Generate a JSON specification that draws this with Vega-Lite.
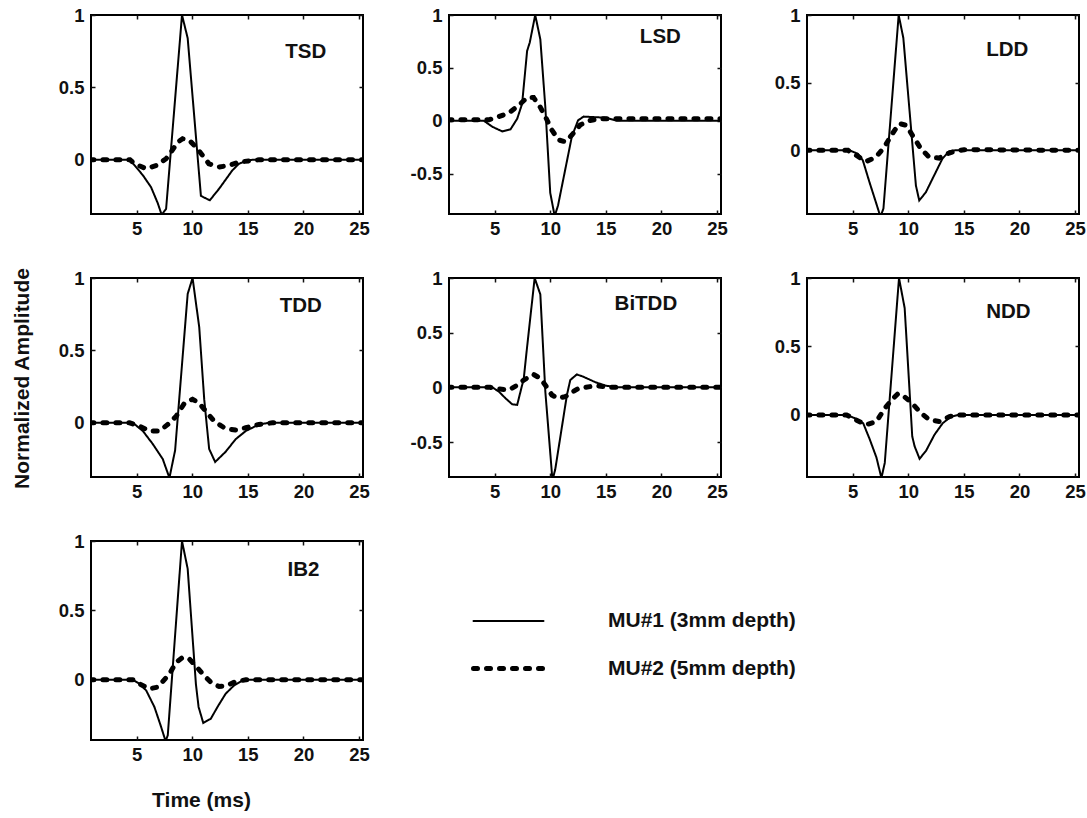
{
  "$schema": "https://vega.github.io/schema/vega-lite/v6.json",
  "background": "white",
  "padding": {"left": 9, "top": 5, "right": 5, "bottom": 5},
  "config": {
    "view": {"stroke": "black", "strokeWidth": 2},
    "axis": {"domain": false, "grid": false, "labelFont": "Liberation Sans", "labelFontWeight": "bold", "labelFontSize": 18.5, "labelColor": "#111", "tickColor": "#111", "tickSize": -4, "tickWidth": 1.5, "titleFont": "Liberation Sans", "titleFontWeight": "bold", "titleFontSize": 21, "titleColor": "#111"},
    "axisX": {"labelPadding": 9},
    "axisY": {"labelPadding": 11},
    "legend": {"orient": "none", "legendX": 380, "legendY": 570, "symbolType": "stroke", "symbolSize": 4900, "symbolStrokeColor": "black", "labelFont": "Liberation Sans", "labelFontWeight": "bold", "labelFontSize": 21, "labelColor": "#111", "labelOffset": 62, "labelLimit": 0, "labelBaseline": "middle", "rowPadding": -29},
    "text": {"font": "Liberation Sans", "fontWeight": "bold", "fontSize": 20.5, "color": "#111"}
  },
  "datasets": {
    "TSD": [
      {"t":0.8,"a":0,"s":"MU#1 (3mm depth)"},{"t":4.4,"a":0,"s":"MU#1 (3mm depth)"},{"t":5.57,"a":-0.108,"s":"MU#1 (3mm depth)"},{"t":6.3,"a":-0.19,"s":"MU#1 (3mm depth)"},{"t":6.9,"a":-0.3,"s":"MU#1 (3mm depth)"},{"t":7.25,"a":-0.38,"s":"MU#1 (3mm depth)"},{"t":7.65,"a":-0.34,"s":"MU#1 (3mm depth)"},{"t":9.08,"a":1.0,"s":"MU#1 (3mm depth)"},{"t":9.59,"a":0.84,"s":"MU#1 (3mm depth)"},{"t":10.78,"a":-0.25,"s":"MU#1 (3mm depth)"},{"t":11.58,"a":-0.28,"s":"MU#1 (3mm depth)"},{"t":12.42,"a":-0.2,"s":"MU#1 (3mm depth)"},{"t":13.6,"a":-0.074,"s":"MU#1 (3mm depth)"},{"t":14.2,"a":-0.028,"s":"MU#1 (3mm depth)"},{"t":14.95,"a":-0.005,"s":"MU#1 (3mm depth)"},{"t":15.5,"a":0,"s":"MU#1 (3mm depth)"},{"t":25.4,"a":0,"s":"MU#1 (3mm depth)"},
      {"t":0.8,"a":0,"s":"MU#2 (5mm depth)"},{"t":4.4,"a":0,"s":"MU#2 (5mm depth)"},{"t":4.8,"a":-0.028,"s":"MU#2 (5mm depth)"},{"t":5.86,"a":-0.062,"s":"MU#2 (5mm depth)"},{"t":6.76,"a":-0.04,"s":"MU#2 (5mm depth)"},{"t":7.65,"a":0.007,"s":"MU#2 (5mm depth)"},{"t":8.1,"a":0.053,"s":"MU#2 (5mm depth)"},{"t":8.7,"a":0.122,"s":"MU#2 (5mm depth)"},{"t":9.14,"a":0.145,"s":"MU#2 (5mm depth)"},{"t":9.74,"a":0.134,"s":"MU#2 (5mm depth)"},{"t":10.33,"a":0.088,"s":"MU#2 (5mm depth)"},{"t":10.93,"a":0.03,"s":"MU#2 (5mm depth)"},{"t":11.5,"a":-0.028,"s":"MU#2 (5mm depth)"},{"t":12.42,"a":-0.05,"s":"MU#2 (5mm depth)"},{"t":13.3,"a":-0.04,"s":"MU#2 (5mm depth)"},{"t":14.2,"a":-0.016,"s":"MU#2 (5mm depth)"},{"t":15.4,"a":-0.005,"s":"MU#2 (5mm depth)"},{"t":16,"a":0,"s":"MU#2 (5mm depth)"},{"t":25.4,"a":0,"s":"MU#2 (5mm depth)"}
    ],
    "LSD": [
      {"t":0.8,"a":0,"s":"MU#1 (3mm depth)"},{"t":4.05,"a":0,"s":"MU#1 (3mm depth)"},{"t":4.8,"a":-0.056,"s":"MU#1 (3mm depth)"},{"t":5.7,"a":-0.1,"s":"MU#1 (3mm depth)"},{"t":6.43,"a":-0.08,"s":"MU#1 (3mm depth)"},{"t":7.03,"a":0.02,"s":"MU#1 (3mm depth)"},{"t":7.47,"a":0.16,"s":"MU#1 (3mm depth)"},{"t":7.92,"a":0.66,"s":"MU#1 (3mm depth)"},{"t":8.16,"a":0.74,"s":"MU#1 (3mm depth)"},{"t":8.65,"a":1.0,"s":"MU#1 (3mm depth)"},{"t":9.11,"a":0.77,"s":"MU#1 (3mm depth)"},{"t":9.56,"a":0.13,"s":"MU#1 (3mm depth)"},{"t":10.0,"a":-0.68,"s":"MU#1 (3mm depth)"},{"t":10.4,"a":-0.9,"s":"MU#1 (3mm depth)"},{"t":10.7,"a":-0.8,"s":"MU#1 (3mm depth)"},{"t":11.94,"a":-0.15,"s":"MU#1 (3mm depth)"},{"t":12.5,"a":0.005,"s":"MU#1 (3mm depth)"},{"t":13.0,"a":0.04,"s":"MU#1 (3mm depth)"},{"t":15.0,"a":0.03,"s":"MU#1 (3mm depth)"},{"t":16.0,"a":0,"s":"MU#1 (3mm depth)"},{"t":25.4,"a":0,"s":"MU#1 (3mm depth)"},
      {"t":0.8,"a":0.01,"s":"MU#2 (5mm depth)"},{"t":4.5,"a":0.01,"s":"MU#2 (5mm depth)"},{"t":5.39,"a":0.04,"s":"MU#2 (5mm depth)"},{"t":6.28,"a":0.075,"s":"MU#2 (5mm depth)"},{"t":7.17,"a":0.147,"s":"MU#2 (5mm depth)"},{"t":7.92,"a":0.22,"s":"MU#2 (5mm depth)"},{"t":8.5,"a":0.22,"s":"MU#2 (5mm depth)"},{"t":9.1,"a":0.13,"s":"MU#2 (5mm depth)"},{"t":9.56,"a":0.04,"s":"MU#2 (5mm depth)"},{"t":10.15,"a":-0.088,"s":"MU#2 (5mm depth)"},{"t":10.75,"a":-0.18,"s":"MU#2 (5mm depth)"},{"t":11.34,"a":-0.197,"s":"MU#2 (5mm depth)"},{"t":11.94,"a":-0.134,"s":"MU#2 (5mm depth)"},{"t":12.68,"a":-0.04,"s":"MU#2 (5mm depth)"},{"t":13.43,"a":0,"s":"MU#2 (5mm depth)"},{"t":14.5,"a":0.02,"s":"MU#2 (5mm depth)"},{"t":25.4,"a":0.02,"s":"MU#2 (5mm depth)"}
    ],
    "LDD": [
      {"t":0.8,"a":0,"s":"MU#1 (3mm depth)"},{"t":4.73,"a":0,"s":"MU#1 (3mm depth)"},{"t":5.48,"a":-0.025,"s":"MU#1 (3mm depth)"},{"t":5.92,"a":-0.074,"s":"MU#1 (3mm depth)"},{"t":6.52,"a":-0.236,"s":"MU#1 (3mm depth)"},{"t":7.1,"a":-0.385,"s":"MU#1 (3mm depth)"},{"t":7.5,"a":-0.49,"s":"MU#1 (3mm depth)"},{"t":7.77,"a":-0.43,"s":"MU#1 (3mm depth)"},{"t":9.14,"a":1.0,"s":"MU#1 (3mm depth)"},{"t":9.56,"a":0.83,"s":"MU#1 (3mm depth)"},{"t":10.69,"a":-0.26,"s":"MU#1 (3mm depth)"},{"t":10.99,"a":-0.37,"s":"MU#1 (3mm depth)"},{"t":11.58,"a":-0.31,"s":"MU#1 (3mm depth)"},{"t":12.18,"a":-0.21,"s":"MU#1 (3mm depth)"},{"t":13.07,"a":-0.062,"s":"MU#1 (3mm depth)"},{"t":13.67,"a":-0.007,"s":"MU#1 (3mm depth)"},{"t":14.2,"a":0,"s":"MU#1 (3mm depth)"},{"t":25.4,"a":0,"s":"MU#1 (3mm depth)"},
      {"t":0.8,"a":0,"s":"MU#2 (5mm depth)"},{"t":4.6,"a":0,"s":"MU#2 (5mm depth)"},{"t":5.33,"a":-0.037,"s":"MU#2 (5mm depth)"},{"t":6.22,"a":-0.082,"s":"MU#2 (5mm depth)"},{"t":7.1,"a":-0.05,"s":"MU#2 (5mm depth)"},{"t":7.86,"a":0.025,"s":"MU#2 (5mm depth)"},{"t":8.46,"a":0.11,"s":"MU#2 (5mm depth)"},{"t":9.2,"a":0.198,"s":"MU#2 (5mm depth)"},{"t":9.8,"a":0.186,"s":"MU#2 (5mm depth)"},{"t":10.39,"a":0.11,"s":"MU#2 (5mm depth)"},{"t":11.14,"a":0.012,"s":"MU#2 (5mm depth)"},{"t":11.88,"a":-0.05,"s":"MU#2 (5mm depth)"},{"t":12.77,"a":-0.057,"s":"MU#2 (5mm depth)"},{"t":13.5,"a":-0.025,"s":"MU#2 (5mm depth)"},{"t":14.26,"a":-0.005,"s":"MU#2 (5mm depth)"},{"t":15,"a":0.005,"s":"MU#2 (5mm depth)"},{"t":25.4,"a":0,"s":"MU#2 (5mm depth)"}
    ],
    "TDD": [
      {"t":0.8,"a":0,"s":"MU#1 (3mm depth)"},{"t":4.67,"a":0,"s":"MU#1 (3mm depth)"},{"t":5.57,"a":-0.057,"s":"MU#1 (3mm depth)"},{"t":6.46,"a":-0.147,"s":"MU#1 (3mm depth)"},{"t":7.35,"a":-0.25,"s":"MU#1 (3mm depth)"},{"t":7.95,"a":-0.38,"s":"MU#1 (3mm depth)"},{"t":8.46,"a":-0.19,"s":"MU#1 (3mm depth)"},{"t":9.59,"a":0.89,"s":"MU#1 (3mm depth)"},{"t":10.03,"a":1.0,"s":"MU#1 (3mm depth)"},{"t":10.63,"a":0.66,"s":"MU#1 (3mm depth)"},{"t":11.08,"a":0.16,"s":"MU#1 (3mm depth)"},{"t":11.52,"a":-0.18,"s":"MU#1 (3mm depth)"},{"t":12.06,"a":-0.27,"s":"MU#1 (3mm depth)"},{"t":13.0,"a":-0.2,"s":"MU#1 (3mm depth)"},{"t":13.9,"a":-0.113,"s":"MU#1 (3mm depth)"},{"t":14.8,"a":-0.057,"s":"MU#1 (3mm depth)"},{"t":16.0,"a":-0.011,"s":"MU#1 (3mm depth)"},{"t":16.9,"a":0,"s":"MU#1 (3mm depth)"},{"t":25.4,"a":0,"s":"MU#1 (3mm depth)"},
      {"t":0.8,"a":0,"s":"MU#2 (5mm depth)"},{"t":4.37,"a":0,"s":"MU#2 (5mm depth)"},{"t":5.27,"a":-0.023,"s":"MU#2 (5mm depth)"},{"t":6.16,"a":-0.057,"s":"MU#2 (5mm depth)"},{"t":7.06,"a":-0.057,"s":"MU#2 (5mm depth)"},{"t":7.8,"a":-0.011,"s":"MU#2 (5mm depth)"},{"t":8.55,"a":0.045,"s":"MU#2 (5mm depth)"},{"t":9.3,"a":0.136,"s":"MU#2 (5mm depth)"},{"t":10.03,"a":0.163,"s":"MU#2 (5mm depth)"},{"t":10.63,"a":0.136,"s":"MU#2 (5mm depth)"},{"t":11.23,"a":0.079,"s":"MU#2 (5mm depth)"},{"t":11.97,"a":0.011,"s":"MU#2 (5mm depth)"},{"t":13.0,"a":-0.04,"s":"MU#2 (5mm depth)"},{"t":13.9,"a":-0.05,"s":"MU#2 (5mm depth)"},{"t":14.8,"a":-0.034,"s":"MU#2 (5mm depth)"},{"t":16.0,"a":-0.011,"s":"MU#2 (5mm depth)"},{"t":17.2,"a":0,"s":"MU#2 (5mm depth)"},{"t":25.4,"a":0,"s":"MU#2 (5mm depth)"}
    ],
    "BiTDD": [
      {"t":0.8,"a":0,"s":"MU#1 (3mm depth)"},{"t":4.8,"a":0,"s":"MU#1 (3mm depth)"},{"t":5.39,"a":-0.04,"s":"MU#1 (3mm depth)"},{"t":5.98,"a":-0.1,"s":"MU#1 (3mm depth)"},{"t":6.58,"a":-0.155,"s":"MU#1 (3mm depth)"},{"t":7.03,"a":-0.16,"s":"MU#1 (3mm depth)"},{"t":7.62,"a":0.08,"s":"MU#1 (3mm depth)"},{"t":7.92,"a":0.37,"s":"MU#1 (3mm depth)"},{"t":8.6,"a":1.0,"s":"MU#1 (3mm depth)"},{"t":9.11,"a":0.85,"s":"MU#1 (3mm depth)"},{"t":9.56,"a":-0.04,"s":"MU#1 (3mm depth)"},{"t":10.2,"a":-0.85,"s":"MU#1 (3mm depth)"},{"t":10.45,"a":-0.75,"s":"MU#1 (3mm depth)"},{"t":11.5,"a":-0.07,"s":"MU#1 (3mm depth)"},{"t":11.8,"a":0.067,"s":"MU#1 (3mm depth)"},{"t":12.39,"a":0.118,"s":"MU#1 (3mm depth)"},{"t":12.98,"a":0.097,"s":"MU#1 (3mm depth)"},{"t":14.1,"a":0.045,"s":"MU#1 (3mm depth)"},{"t":15.0,"a":0.015,"s":"MU#1 (3mm depth)"},{"t":16,"a":0,"s":"MU#1 (3mm depth)"},{"t":25.4,"a":0,"s":"MU#1 (3mm depth)"},
      {"t":0.8,"a":0,"s":"MU#2 (5mm depth)"},{"t":4.6,"a":0,"s":"MU#2 (5mm depth)"},{"t":5.39,"a":-0.015,"s":"MU#2 (5mm depth)"},{"t":6.28,"a":-0.024,"s":"MU#2 (5mm depth)"},{"t":7.03,"a":0.02,"s":"MU#2 (5mm depth)"},{"t":7.62,"a":0.067,"s":"MU#2 (5mm depth)"},{"t":8.5,"a":0.118,"s":"MU#2 (5mm depth)"},{"t":9.11,"a":0.082,"s":"MU#2 (5mm depth)"},{"t":9.56,"a":0.02,"s":"MU#2 (5mm depth)"},{"t":10.15,"a":-0.07,"s":"MU#2 (5mm depth)"},{"t":10.69,"a":-0.1,"s":"MU#2 (5mm depth)"},{"t":11.35,"a":-0.085,"s":"MU#2 (5mm depth)"},{"t":11.8,"a":-0.055,"s":"MU#2 (5mm depth)"},{"t":12.54,"a":-0.01,"s":"MU#2 (5mm depth)"},{"t":14.1,"a":0.015,"s":"MU#2 (5mm depth)"},{"t":15.5,"a":0,"s":"MU#2 (5mm depth)"},{"t":25.4,"a":0,"s":"MU#2 (5mm depth)"}
    ],
    "NDD": [
      {"t":0.8,"a":0,"s":"MU#1 (3mm depth)"},{"t":4.46,"a":0,"s":"MU#1 (3mm depth)"},{"t":5.2,"a":-0.024,"s":"MU#1 (3mm depth)"},{"t":5.95,"a":-0.06,"s":"MU#1 (3mm depth)"},{"t":6.55,"a":-0.18,"s":"MU#1 (3mm depth)"},{"t":7.14,"a":-0.31,"s":"MU#1 (3mm depth)"},{"t":7.59,"a":-0.46,"s":"MU#1 (3mm depth)"},{"t":7.89,"a":-0.35,"s":"MU#1 (3mm depth)"},{"t":9.17,"a":1.0,"s":"MU#1 (3mm depth)"},{"t":9.68,"a":0.78,"s":"MU#1 (3mm depth)"},{"t":10.36,"a":-0.156,"s":"MU#1 (3mm depth)"},{"t":10.57,"a":-0.228,"s":"MU#1 (3mm depth)"},{"t":11.02,"a":-0.32,"s":"MU#1 (3mm depth)"},{"t":11.61,"a":-0.26,"s":"MU#1 (3mm depth)"},{"t":12.36,"a":-0.144,"s":"MU#1 (3mm depth)"},{"t":13.1,"a":-0.06,"s":"MU#1 (3mm depth)"},{"t":13.85,"a":-0.012,"s":"MU#1 (3mm depth)"},{"t":14.5,"a":0,"s":"MU#1 (3mm depth)"},{"t":25.4,"a":0,"s":"MU#1 (3mm depth)"},
      {"t":0.8,"a":0,"s":"MU#2 (5mm depth)"},{"t":4.46,"a":0,"s":"MU#2 (5mm depth)"},{"t":5.3,"a":-0.036,"s":"MU#2 (5mm depth)"},{"t":6.2,"a":-0.072,"s":"MU#2 (5mm depth)"},{"t":7.14,"a":-0.048,"s":"MU#2 (5mm depth)"},{"t":7.89,"a":0.048,"s":"MU#2 (5mm depth)"},{"t":8.49,"a":0.108,"s":"MU#2 (5mm depth)"},{"t":9.08,"a":0.156,"s":"MU#2 (5mm depth)"},{"t":9.68,"a":0.132,"s":"MU#2 (5mm depth)"},{"t":10.36,"a":0.084,"s":"MU#2 (5mm depth)"},{"t":11.02,"a":0.024,"s":"MU#2 (5mm depth)"},{"t":11.9,"a":-0.036,"s":"MU#2 (5mm depth)"},{"t":12.8,"a":-0.048,"s":"MU#2 (5mm depth)"},{"t":13.7,"a":-0.012,"s":"MU#2 (5mm depth)"},{"t":14.5,"a":0,"s":"MU#2 (5mm depth)"},{"t":25.4,"a":0,"s":"MU#2 (5mm depth)"}
    ],
    "IB2": [
      {"t":0.8,"a":0,"s":"MU#1 (3mm depth)"},{"t":4.67,"a":0,"s":"MU#1 (3mm depth)"},{"t":5.27,"a":-0.029,"s":"MU#1 (3mm depth)"},{"t":5.86,"a":-0.076,"s":"MU#1 (3mm depth)"},{"t":6.6,"a":-0.195,"s":"MU#1 (3mm depth)"},{"t":7.2,"a":-0.338,"s":"MU#1 (3mm depth)"},{"t":7.6,"a":-0.44,"s":"MU#1 (3mm depth)"},{"t":7.8,"a":-0.4,"s":"MU#1 (3mm depth)"},{"t":9.08,"a":1.0,"s":"MU#1 (3mm depth)"},{"t":9.59,"a":0.8,"s":"MU#1 (3mm depth)"},{"t":10.33,"a":-0.03,"s":"MU#1 (3mm depth)"},{"t":10.57,"a":-0.195,"s":"MU#1 (3mm depth)"},{"t":10.99,"a":-0.31,"s":"MU#1 (3mm depth)"},{"t":11.67,"a":-0.28,"s":"MU#1 (3mm depth)"},{"t":12.27,"a":-0.195,"s":"MU#1 (3mm depth)"},{"t":13.0,"a":-0.1,"s":"MU#1 (3mm depth)"},{"t":13.76,"a":-0.04,"s":"MU#1 (3mm depth)"},{"t":14.5,"a":-0.005,"s":"MU#1 (3mm depth)"},{"t":15,"a":0,"s":"MU#1 (3mm depth)"},{"t":25.4,"a":0,"s":"MU#1 (3mm depth)"},
      {"t":0.8,"a":0,"s":"MU#2 (5mm depth)"},{"t":4.67,"a":0,"s":"MU#2 (5mm depth)"},{"t":5.27,"a":-0.029,"s":"MU#2 (5mm depth)"},{"t":6.16,"a":-0.064,"s":"MU#2 (5mm depth)"},{"t":6.9,"a":-0.052,"s":"MU#2 (5mm depth)"},{"t":7.95,"a":0.043,"s":"MU#2 (5mm depth)"},{"t":8.55,"a":0.126,"s":"MU#2 (5mm depth)"},{"t":9.14,"a":0.162,"s":"MU#2 (5mm depth)"},{"t":9.74,"a":0.15,"s":"MU#2 (5mm depth)"},{"t":10.33,"a":0.1,"s":"MU#2 (5mm depth)"},{"t":10.93,"a":0.043,"s":"MU#2 (5mm depth)"},{"t":11.67,"a":-0.017,"s":"MU#2 (5mm depth)"},{"t":12.42,"a":-0.048,"s":"MU#2 (5mm depth)"},{"t":13.16,"a":-0.04,"s":"MU#2 (5mm depth)"},{"t":13.9,"a":-0.012,"s":"MU#2 (5mm depth)"},{"t":14.8,"a":0,"s":"MU#2 (5mm depth)"},{"t":25.4,"a":0,"s":"MU#2 (5mm depth)"}
    ]
  },
  "bounds": "flush",
  "columns": 3,
  "spacing": {"row": 64, "column": 86},
  "concat": [
    {
      "width": 272, "height": 199,
      "resolve": {"axis": {"x": "independent", "y": "independent"}},
      "layer": [
        {"data": {"name": "TSD"}, "mark": {"type": "line", "color": "black", "clip": true, "strokeCap": "round"},
         "encoding": {
           "x": {"field": "t", "type": "quantitative", "scale": {"domain": [0.9, 25.35], "nice": false, "zero": false}, "axis": {"values": [5, 10, 15, 20, 25], "title": null}},
           "y": {"field": "a", "type": "quantitative", "scale": {"domain": [-0.375, 1], "nice": false, "zero": false}, "axis": {"values": [0, 0.5, 1], "labelExpr": "'' + datum.value", "title": null}},
           "strokeDash": {"field": "s", "type": "ordinal", "scale": {"type": "ordinal", "domain": ["MU#1 (3mm depth)", "MU#2 (5mm depth)"], "range": [[1, 0], [4, 9]]}, "legend": {"title": null, "encode": {"symbols": {"update": {"strokeCap": {"value": "round"}}}}}},
           "strokeWidth": {"field": "s", "type": "ordinal", "scale": {"type": "ordinal", "domain": ["MU#1 (3mm depth)", "MU#2 (5mm depth)"], "range": [2, 5]}, "legend": {"title": null}}
         }},
        {"data": {"values": [{}]}, "mark": {"type": "text"}, "encoding": {
           "x": {"datum": 20.2, "type": "quantitative", "axis": {"orient": "top", "labels": false, "values": [5, 10, 15, 20, 25], "title": null}},
           "y": {"datum": 0.744, "type": "quantitative", "axis": {"orient": "right", "labels": false, "values": [0, 0.5, 1], "title": null}},
           "text": {"value": "TSD"}}}
      ]
    },
    {
      "width": 272, "height": 199,
      "resolve": {"axis": {"x": "independent", "y": "independent"}},
      "layer": [
        {"data": {"name": "LSD"}, "mark": {"type": "line", "color": "black", "clip": true, "strokeCap": "round"},
         "encoding": {
           "x": {"field": "t", "type": "quantitative", "scale": {"domain": [0.9, 25.35], "nice": false, "zero": false}, "axis": {"values": [5, 10, 15, 20, 25], "title": null}},
           "y": {"field": "a", "type": "quantitative", "scale": {"domain": [-0.88, 1], "nice": false, "zero": false}, "axis": {"values": [-0.5, 0, 0.5, 1], "labelExpr": "'' + datum.value", "title": null}},
           "strokeDash": {"field": "s", "type": "ordinal", "scale": {"type": "ordinal", "domain": ["MU#1 (3mm depth)", "MU#2 (5mm depth)"], "range": [[1, 0], [4, 9]]}, "legend": {"title": null, "encode": {"symbols": {"update": {"strokeCap": {"value": "round"}}}}}},
           "strokeWidth": {"field": "s", "type": "ordinal", "scale": {"type": "ordinal", "domain": ["MU#1 (3mm depth)", "MU#2 (5mm depth)"], "range": [2, 5]}, "legend": {"title": null}}
         }},
        {"data": {"values": [{}]}, "mark": {"type": "text"}, "encoding": {
           "x": {"datum": 19.9, "type": "quantitative", "axis": {"orient": "top", "labels": false, "values": [5, 10, 15, 20, 25], "title": null}},
           "y": {"datum": 0.79, "type": "quantitative", "axis": {"orient": "right", "labels": false, "values": [-0.5, 0, 0.5, 1], "title": null}},
           "text": {"value": "LSD"}}}
      ]
    },
    {
      "width": 272, "height": 199,
      "resolve": {"axis": {"x": "independent", "y": "independent"}},
      "layer": [
        {"data": {"name": "LDD"}, "mark": {"type": "line", "color": "black", "clip": true, "strokeCap": "round"},
         "encoding": {
           "x": {"field": "t", "type": "quantitative", "scale": {"domain": [0.9, 25.35], "nice": false, "zero": false}, "axis": {"values": [5, 10, 15, 20, 25], "title": null}},
           "y": {"field": "a", "type": "quantitative", "scale": {"domain": [-0.47, 1], "nice": false, "zero": false}, "axis": {"values": [0, 0.5, 1], "labelExpr": "'' + datum.value", "title": null}},
           "strokeDash": {"field": "s", "type": "ordinal", "scale": {"type": "ordinal", "domain": ["MU#1 (3mm depth)", "MU#2 (5mm depth)"], "range": [[1, 0], [4, 9]]}, "legend": {"title": null, "encode": {"symbols": {"update": {"strokeCap": {"value": "round"}}}}}},
           "strokeWidth": {"field": "s", "type": "ordinal", "scale": {"type": "ordinal", "domain": ["MU#1 (3mm depth)", "MU#2 (5mm depth)"], "range": [2, 5]}, "legend": {"title": null}}
         }},
        {"data": {"values": [{}]}, "mark": {"type": "text"}, "encoding": {
           "x": {"datum": 18.9, "type": "quantitative", "axis": {"orient": "top", "labels": false, "values": [5, 10, 15, 20, 25], "title": null}},
           "y": {"datum": 0.74, "type": "quantitative", "axis": {"orient": "right", "labels": false, "values": [0, 0.5, 1], "title": null}},
           "text": {"value": "LDD"}}}
      ]
    },
    {
      "width": 272, "height": 199,
      "resolve": {"axis": {"x": "independent", "y": "independent"}},
      "layer": [
        {"data": {"name": "TDD"}, "mark": {"type": "line", "color": "black", "clip": true, "strokeCap": "round"},
         "encoding": {
           "x": {"field": "t", "type": "quantitative", "scale": {"domain": [0.9, 25.35], "nice": false, "zero": false}, "axis": {"values": [5, 10, 15, 20, 25], "title": null}},
           "y": {"field": "a", "type": "quantitative", "scale": {"domain": [-0.374, 1], "nice": false, "zero": false}, "axis": {"values": [0, 0.5, 1], "labelExpr": "'' + datum.value", "title": "Normalized Amplitude", "titleX": -59, "titleY": 100, "titleAnchor": "middle"}},
           "strokeDash": {"field": "s", "type": "ordinal", "scale": {"type": "ordinal", "domain": ["MU#1 (3mm depth)", "MU#2 (5mm depth)"], "range": [[1, 0], [4, 9]]}, "legend": {"title": null, "encode": {"symbols": {"update": {"strokeCap": {"value": "round"}}}}}},
           "strokeWidth": {"field": "s", "type": "ordinal", "scale": {"type": "ordinal", "domain": ["MU#1 (3mm depth)", "MU#2 (5mm depth)"], "range": [2, 5]}, "legend": {"title": null}}
         }},
        {"data": {"values": [{}]}, "mark": {"type": "text"}, "encoding": {
           "x": {"datum": 19.75, "type": "quantitative", "axis": {"orient": "top", "labels": false, "values": [5, 10, 15, 20, 25], "title": null}},
           "y": {"datum": 0.806, "type": "quantitative", "axis": {"orient": "right", "labels": false, "values": [0, 0.5, 1], "title": null}},
           "text": {"value": "TDD"}}}
      ]
    },
    {
      "width": 272, "height": 199,
      "resolve": {"axis": {"x": "independent", "y": "independent"}},
      "layer": [
        {"data": {"name": "BiTDD"}, "mark": {"type": "line", "color": "black", "clip": true, "strokeCap": "round"},
         "encoding": {
           "x": {"field": "t", "type": "quantitative", "scale": {"domain": [0.9, 25.35], "nice": false, "zero": false}, "axis": {"values": [5, 10, 15, 20, 25], "title": null}},
           "y": {"field": "a", "type": "quantitative", "scale": {"domain": [-0.82, 1], "nice": false, "zero": false}, "axis": {"values": [-0.5, 0, 0.5, 1], "labelExpr": "'' + datum.value", "title": null}},
           "strokeDash": {"field": "s", "type": "ordinal", "scale": {"type": "ordinal", "domain": ["MU#1 (3mm depth)", "MU#2 (5mm depth)"], "range": [[1, 0], [4, 9]]}, "legend": {"title": null, "encode": {"symbols": {"update": {"strokeCap": {"value": "round"}}}}}},
           "strokeWidth": {"field": "s", "type": "ordinal", "scale": {"type": "ordinal", "domain": ["MU#1 (3mm depth)", "MU#2 (5mm depth)"], "range": [2, 5]}, "legend": {"title": null}}
         }},
        {"data": {"values": [{}]}, "mark": {"type": "text"}, "encoding": {
           "x": {"datum": 18.6, "type": "quantitative", "axis": {"orient": "top", "labels": false, "values": [5, 10, 15, 20, 25], "title": null}},
           "y": {"datum": 0.76, "type": "quantitative", "axis": {"orient": "right", "labels": false, "values": [-0.5, 0, 0.5, 1], "title": null}},
           "text": {"value": "BiTDD"}}}
      ]
    },
    {
      "width": 272, "height": 199,
      "resolve": {"axis": {"x": "independent", "y": "independent"}},
      "layer": [
        {"data": {"name": "NDD"}, "mark": {"type": "line", "color": "black", "clip": true, "strokeCap": "round"},
         "encoding": {
           "x": {"field": "t", "type": "quantitative", "scale": {"domain": [0.9, 25.35], "nice": false, "zero": false}, "axis": {"values": [5, 10, 15, 20, 25], "title": null}},
           "y": {"field": "a", "type": "quantitative", "scale": {"domain": [-0.453, 1], "nice": false, "zero": false}, "axis": {"values": [0, 0.5, 1], "labelExpr": "'' + datum.value", "title": null}},
           "strokeDash": {"field": "s", "type": "ordinal", "scale": {"type": "ordinal", "domain": ["MU#1 (3mm depth)", "MU#2 (5mm depth)"], "range": [[1, 0], [4, 9]]}, "legend": {"title": null, "encode": {"symbols": {"update": {"strokeCap": {"value": "round"}}}}}},
           "strokeWidth": {"field": "s", "type": "ordinal", "scale": {"type": "ordinal", "domain": ["MU#1 (3mm depth)", "MU#2 (5mm depth)"], "range": [2, 5]}, "legend": {"title": null}}
         }},
        {"data": {"values": [{}]}, "mark": {"type": "text"}, "encoding": {
           "x": {"datum": 19.0, "type": "quantitative", "axis": {"orient": "top", "labels": false, "values": [5, 10, 15, 20, 25], "title": null}},
           "y": {"datum": 0.75, "type": "quantitative", "axis": {"orient": "right", "labels": false, "values": [0, 0.5, 1], "title": null}},
           "text": {"value": "NDD"}}}
      ]
    },
    {
      "width": 272, "height": 199,
      "resolve": {"axis": {"x": "independent", "y": "independent"}},
      "layer": [
        {"data": {"name": "IB2"}, "mark": {"type": "line", "color": "black", "clip": true, "strokeCap": "round"},
         "encoding": {
           "x": {"field": "t", "type": "quantitative", "scale": {"domain": [0.9, 25.35], "nice": false, "zero": false}, "axis": {"values": [5, 10, 15, 20, 25], "title": "Time (ms)", "titleX": 110, "titlePadding": 26}},
           "y": {"field": "a", "type": "quantitative", "scale": {"domain": [-0.433, 1], "nice": false, "zero": false}, "axis": {"values": [0, 0.5, 1], "labelExpr": "'' + datum.value", "title": null}},
           "strokeDash": {"field": "s", "type": "ordinal", "scale": {"type": "ordinal", "domain": ["MU#1 (3mm depth)", "MU#2 (5mm depth)"], "range": [[1, 0], [4, 9]]}, "legend": {"title": null, "encode": {"symbols": {"update": {"strokeCap": {"value": "round"}}}}}},
           "strokeWidth": {"field": "s", "type": "ordinal", "scale": {"type": "ordinal", "domain": ["MU#1 (3mm depth)", "MU#2 (5mm depth)"], "range": [2, 5]}, "legend": {"title": null}}
         }},
        {"data": {"values": [{}]}, "mark": {"type": "text"}, "encoding": {
           "x": {"datum": 20.0, "type": "quantitative", "axis": {"orient": "top", "labels": false, "values": [5, 10, 15, 20, 25], "title": null}},
           "y": {"datum": 0.79, "type": "quantitative", "axis": {"orient": "right", "labels": false, "values": [0, 0.5, 1], "title": null}},
           "text": {"value": "IB2"}}}
      ]
    }
  ]
}
